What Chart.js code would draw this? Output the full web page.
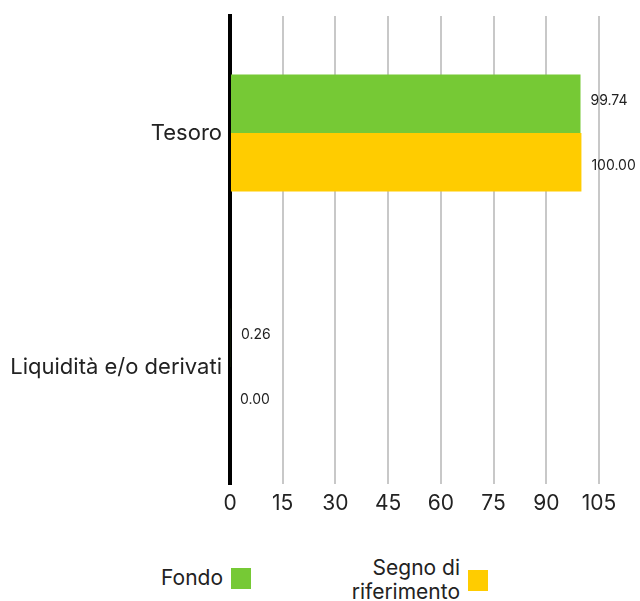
<!DOCTYPE html>
<html>
<head>
<meta charset="utf-8">
<script src="https://cdn.jsdelivr.net/npm/chart.js@4.4.0/dist/chart.umd.min.js"></script>
<style>
  html, body { margin: 0; padding: 0; background: #fff; }
  body { width: 640px; height: 601px; position: relative; font-family: Inter, "Noto Sans", sans-serif; color: #222; }
  #wrap { position: absolute; left: 0; top: 0; width: 640px; height: 520px; }
  .legend-item { position: absolute; display: flex; align-items: center; font-size: 21px; line-height: 24px; }
  .legend-item span.txt { text-align: right; }
  .legend-item span.box { width: 20px; height: 21px; margin-left: 8px; display: inline-block; }
</style>
</head>
<body>
<div id="wrap"><canvas id="chart"></canvas></div>
<div class="legend-item" id="leg0" style="right:389px; top:566px;"></div>
<div class="legend-item" id="leg1" style="right:152px; top:556px;"></div>
<script>
// Categories and values
const categories = ['Tesoro', 'Liquidità e/o derivati'];
const fondo = [99.74, 0.26];
const riferimento = [100.00, 0.00];
const seriesNames = ['Fondo', ['Segno di', 'riferimento']];
const seriesColors = ['#76c935', '#ffcc00'];
const xTicks = [0, 15, 30, 45, 60, 75, 90, 105];

// Value labels at the end of each bar
const valueLabels = {
    id: 'valueLabels',
    afterDatasetsDraw(chart) {
        const ctx = chart.ctx;
        ctx.save();
        ctx.font = '14px Inter, "Noto Sans", sans-serif';
        ctx.fillStyle = '#222';
        ctx.textBaseline = 'middle';
        ctx.textAlign = 'left';
        chart.data.datasets.forEach((ds, i) => {
            const shift = i === 0 ? -3 : 4;
            chart.getDatasetMeta(i).data.forEach((bar, j) => {
                ctx.fillText(ds.data[j].toFixed(2), bar.x + 10, bar.y + shift);
            });
        });
        ctx.restore();
    }
};

const ctx = document.getElementById('chart').getContext('2d');
const chart = new Chart(ctx, {
    type: 'bar',
    data: {
        labels: categories,
        datasets: [
            { label: 'Fondo', data: fondo, backgroundColor: seriesColors[0] },
            { label: 'Segno di riferimento', data: riferimento, backgroundColor: seriesColors[1] }
        ]
    },
    options: {
        indexAxis: 'y',
        responsive: true,
        maintainAspectRatio: false,
        animation: false,
        datasets: { bar: { categoryPercentage: 0.5, barPercentage: 1.0 } },
        layout: { padding: { top: 16, right: 41, left: 0, bottom: 0 } },
        plugins: {
            legend: { display: false },
            tooltip: { enabled: false }
        },
        scales: {
            x: {
                min: 0,
                max: 105,
                afterBuildTicks(axis) { axis.ticks = xTicks.map(v => ({ value: v })); },
                afterFit(axis) { axis.height = 36; },
                grid: { color: '#c8c8c8', lineWidth: 2, drawTicks: false },
                border: { display: false },
                ticks: { color: '#222', padding: 7, font: { size: 21, family: 'Inter' } }
            },
            y: {
                afterFit(axis) {
                    axis.width = 230;
                    axis.paddingTop = 0;
                    axis.paddingBottom = 0;
                },
                grid: { display: false, drawTicks: false },
                border: { color: '#000', width: 4 },
                ticks: { color: '#222', padding: 8, font: { size: 22, family: 'Inter' } }
            }
        }
    },
    plugins: [valueLabels]
});

// Legend with the swatch on the right of the text
seriesNames.forEach((name, i) => {
    const el = document.getElementById('leg' + i);
    const txt = document.createElement('span');
    txt.className = 'txt';
    txt.innerHTML = Array.isArray(name) ? name.join('<br>') : name;
    const box = document.createElement('span');
    box.className = 'box';
    box.style.background = seriesColors[i];
    el.appendChild(txt);
    el.appendChild(box);
});
</script>
</body>
</html>
